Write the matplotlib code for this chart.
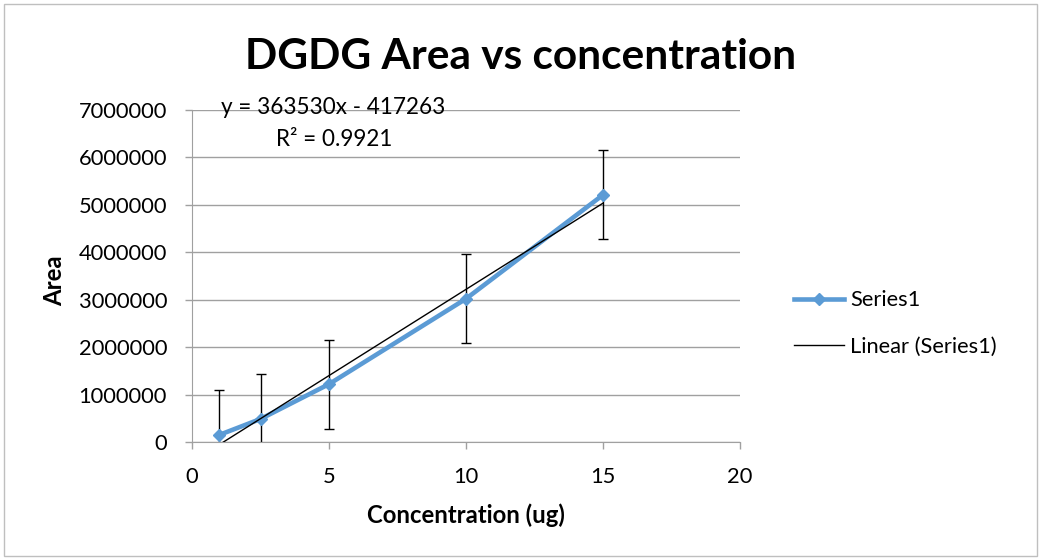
import numpy as np
import matplotlib.pyplot as plt
from matplotlib.patches import Rectangle

plt.rcParams['font.family'] = ['Lato', 'DejaVu Sans']

conc = [1, 2.5, 5, 10, 15]
area = [150000, 485000, 1220000, 3020000, 5210000]
err = [940000, 940000, 940000, 940000, 940000]
slope = 363530
intercept = -417263
r2 = 0.9921
xticks = [0, 5, 10, 15, 20]
yticks = [0, 1000000, 2000000, 3000000, 4000000, 5000000, 6000000, 7000000]

blue = '#5B9BD5'
grid_c = '#A0A0A0'
W, H = 1041, 560


def fx(px):
    return px / W


def fy(py):
    # image row (from top) -> figure fraction
    return 1 - py / H


fig = plt.figure(figsize=(W / 100, H / 100), dpi=100)
ax = fig.add_axes([fx(192), fy(442), fx(740 - 192), (442 - 110) / H])

ax.errorbar(conc, area, yerr=err, fmt='none', ecolor='black', elinewidth=1,
            capsize=3.6, capthick=1, zorder=2)
line1, = ax.plot(conc, area, color=blue, lw=3.3, marker='D', ms=6.2, label='Series1', zorder=3)
tx = np.array([conc[0], conc[-1]])
line2, = ax.plot(tx, slope * tx + intercept, color='black', lw=1, label='Linear (Series1)', zorder=4)

ax.set_xlim(0, 20)
ax.set_ylim(0, 7000000)
ax.set_xticks(xticks)
ax.set_yticks(yticks)
ax.set_yticklabels([str(v) for v in yticks])
ax.yaxis.grid(True, color=grid_c, lw=1)
ax.set_axisbelow(True)
for s in ['top', 'right']:
    ax.spines[s].set_visible(False)
for s in ['left', 'bottom']:
    ax.spines[s].set_color(grid_c)
ax.tick_params(axis='both', colors=grid_c, labelcolor='black', labelsize=16, length=5, width=1)
ax.tick_params(axis='y', pad=13)

title = fig.text(fx(521), fy(57), 'DGDG Area vs concentration', ha='center', va='center',
                 fontsize=30, fontweight='bold')
xlab = fig.text(fx(466), fy(515), 'Concentration (ug)', ha='center', va='center',
                fontsize=18, fontweight='bold')
ylab = fig.text(fx(55), fy(281), 'Area', ha='center', va='center', rotation=90,
                fontsize=18, fontweight='bold')
eq = fig.text(fx(333), fy(107), f'y = {slope}x - {-intercept}', ha='center', va='center', fontsize=16)
rr = fig.text(fx(334), fy(140), f'R² = {r2}', ha='center', va='center', fontsize=16)

fig.canvas.draw()
r = fig.canvas.get_renderer()


def fit_width(t, width):
    bb = t.get_window_extent(r)
    t.set_fontsize(t.get_fontsize() * width / bb.width)


fit_width(title, 551)
fit_width(xlab, 198)
ylab.set_fontsize(xlab.get_fontsize())
fit_width(eq, 225)
rr.set_fontsize(eq.get_fontsize())

# tick label size from the widest y label
bb = ax.get_yticklabels()[-1].get_window_extent(r)
tick_fs = 16 * 89 / bb.width
ax.tick_params(axis='both', labelsize=tick_fs)
fig.canvas.draw()
# x tick labels: centre at row ~477
bb = ax.get_xticklabels()[0].get_window_extent(r)
cur = H - (bb.y0 + bb.y1) / 2
ax.tick_params(axis='x', pad=3.5 + (477 - cur) * 0.72)


def make_legend(x, y, spacing):
    fs_px = tick_fs * 100 / 72
    return fig.legend([line1, line2], ['Series1', 'Linear (Series1)'], loc='upper left',
                      bbox_to_anchor=(fx(x), fy(y)), frameon=False, fontsize=tick_fs,
                      borderpad=0, borderaxespad=0, handlelength=50 / fs_px,
                      handletextpad=6 / fs_px, labelspacing=spacing, numpoints=1)


leg = make_legend(795, 290, 1.0)
fig.canvas.draw()
t0, t1 = [t.get_window_extent(r) for t in leg.get_texts()]
gap = (t0.y0 + t0.y1) / 2 - (t1.y0 + t1.y1) / 2
spacing = 1.0 + (46.5 - gap) / (tick_fs * 100 / 72)
leg.remove()
leg = make_legend(795, 290, spacing)
fig.canvas.draw()
t0 = leg.get_texts()[0].get_window_extent(r)
dx = 850 - t0.x0
dy = 300.5 - (H - (t0.y0 + t0.y1) / 2)
leg.remove()
leg = make_legend(795 + dx, 290 + dy, spacing)

fig.patches.append(Rectangle((fx(4), fy(H - 4)), fx(W - 8), (H - 8) / H, transform=fig.transFigure,
                             fill=False, edgecolor='#BFBFBF', lw=1))

fig.savefig('out.png', dpi=100)
